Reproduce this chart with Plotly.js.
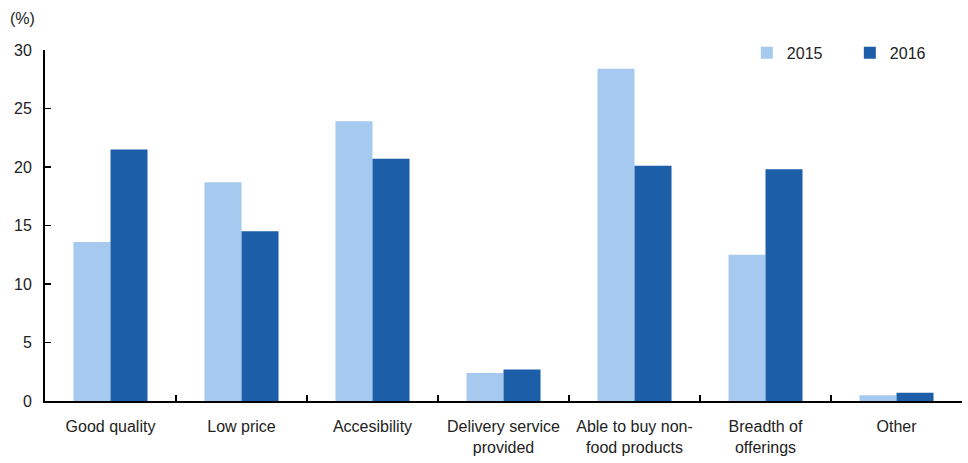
<!DOCTYPE html>
<html><head><meta charset="utf-8">
<script src="https://cdn.plot.ly/plotly-3.0.1.min.js"></script>
<style>body{margin:0;padding:0;background:#fff}#chart{width:968px;height:463px}</style>
</head><body><div id="chart"></div>
<script>
const categories = ["Good quality", "Low price", "Accesibility", "Delivery service<br>provided", "Able to buy non-<br>food products", "Breadth of<br>offerings", "Other"];
const values2015 = [13.6, 18.7, 23.9, 2.4, 28.4, 12.5, 0.5];
const values2016 = [21.5, 14.5, 20.7, 2.7, 20.1, 19.8, 0.7];
const yTicks = [0, 5, 10, 15, 20, 25, 30];
const FONT = "'Liberation Sans', Arial, sans-serif";
const traces = [
  {type: "bar", name: "2015", x: categories, y: values2015, marker: {color: "#A6C9EF"}},
  {type: "bar", name: "2016", x: categories, y: values2016, marker: {color: "#1C5EA8"}}
];
const layout = {
  width: 968, height: 463,
  margin: {l: 45, r: 6, t: 50, b: 62},
  paper_bgcolor: "#fff", plot_bgcolor: "#fff",
  font: {family: FONT, size: 16, color: "#222"},
  barmode: "group", bargap: 0.435, bargroupgap: 0,
  showlegend: true,
  legend: {orientation: "h", x: 0.99, y: 1.04, xanchor: "right", yanchor: "top", font: {size: 16}, entrywidth: 58, traceorder: "normal"},
  xaxis: {type: "category", tickangle: 0, showline: true, linecolor: "#000", linewidth: 2, ticks: "inside", tickson: "boundaries", ticklen: 6, tickcolor: "#000", tickwidth: 1.5, showgrid: false, zeroline: false, ticklabelstandoff: 10},
  yaxis: {range: [0, 30], tickvals: yTicks, ticktext: yTicks.map(String), showline: true, linecolor: "#000", linewidth: 2, ticks: "inside", ticklen: 6, tickcolor: "#000", tickwidth: 1.5, showgrid: false, zeroline: false, ticklabelstandoff: 8},
  annotations: [{text: "(%)", xref: "paper", yref: "paper", x: -0.025, y: 1.0, xanchor: "center", yanchor: "middle", yshift: 32, showarrow: false, font: {size: 16}}]
};
Plotly.newPlot("chart", traces, layout, {displayModeBar: false, staticPlot: true});
</script></body></html>
